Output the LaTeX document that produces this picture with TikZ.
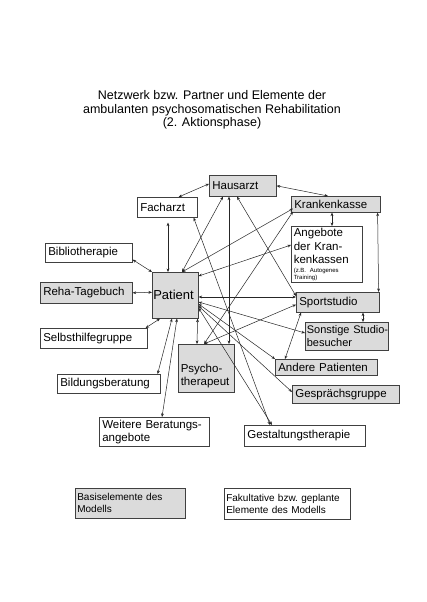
\documentclass[tikz,border=0pt]{standalone}
\usepackage{fontspec}
\setmainfont{Liberation Sans}
\usetikzlibrary{arrows.meta,calc}
\newcommand{\boxfont}{\frenchspacing\fontsize{11.5}{13.5}\selectfont}
\begin{document}
\begin{tikzpicture}[x=1pt,y=-1pt,
  box/.style={draw=black!75, line width=0.6pt, inner xsep=3pt, inner ysep=1pt, align=left, anchor=north west, font=\boxfont},
  gbox/.style={box, fill=black!14},
  wbox/.style={box, fill=white},
  conn/.style={{Stealth[length=3.5pt,width=2.8pt]}-{Stealth[length=3.5pt,width=2.8pt]}, line width=0.5pt, draw=black!85}]
\useasboundingbox[fill=white] (0,0) rectangle (426,602);
% title
\node[anchor=north, align=center, inner sep=0pt, font=\fontsize{12.5}{13.5}\selectfont] (title) at (212,90.5)
  {Netzwerk bzw. Partner und Elemente der\\ambulanten psychosomatischen Rehabilitation\\(2. Aktionsphase)};
% boxes
\node[gbox, minimum width=67, minimum height=21, text width=61] (haus) at (209,175) {Hausarzt};
\node[wbox, minimum width=60, minimum height=20, text width=54] (fach) at (137,197) {Facharzt};
\node[gbox, minimum width=89, minimum height=16, text width=83] (krank) at (291,196) {Krankenkasse};
\node[wbox, minimum width=71, minimum height=56, text width=66, inner xsep=2.5pt, inner ysep=2pt] (ang) at (291,226)
  {\parbox[t]{66pt}{\raggedright Angebote\\der Kran-\\kenkassen\par\vspace{1.5pt}{\fontsize{6}{7}\selectfont (z.B.\ Autogenes\\Training)\par}}};
\node[gbox, minimum width=83, minimum height=20, text width=77] (sport) at (296,292) {Sportstudio};
\node[gbox, minimum width=83, minimum height=28, text width=80, inner xsep=1.5pt, font=\frenchspacing\fontsize{11}{13.5}\selectfont] (sonst) at (305,322) {\mbox{Sonstige Studio-}\\besucher};
\node[gbox, minimum width=102, minimum height=16, text width=96] (andere) at (275,359) {Andere Patienten};
\node[gbox, minimum width=107, minimum height=18, text width=101] (gespr) at (292,385) {Gesprächsgruppe};
\node[wbox, minimum width=121, minimum height=21, text width=115] (gestalt) at (244,425) {Gestaltungstherapie};
\node[wbox, minimum width=110, minimum height=29, text width=104] (weitere) at (99,417) {\mbox{Weitere Beratungs-}\\angebote};
\node[wbox, minimum width=103, minimum height=19, text width=97] (bildung) at (57,374) {Bildungsberatung};
\node[gbox, minimum width=56, minimum height=48, text width=51, inner xsep=2.5pt] (psycho) at (178,344) {\rule{0pt}{24pt}Psycho-\\therapeut};
\node[gbox, minimum width=46, minimum height=46, text width=44, inner xsep=1pt, font=\fontsize{13}{15}\selectfont] (pat) at (152,272) {Patient};
\node[wbox, minimum width=107, minimum height=20, text width=101] (selbst) at (40,328) {Selbsthilfegruppe};
\node[gbox, minimum width=92, minimum height=21, text width=86] (reha) at (40,282) {Reha-Tagebuch};
\node[wbox, minimum width=87, minimum height=19, text width=81] (biblio) at (45,243) {Bibliotherapie};
% legend
\node[gbox, minimum width=110, minimum height=30, text width=106, inner xsep=2pt, font=\frenchspacing\fontsize{10}{12}\selectfont] (leg1) at (75,488) {Basiselemente des\\Modells};
\node[wbox, minimum width=126, minimum height=31, text width=122, inner xsep=2pt, font=\frenchspacing\fontsize{10}{12}\selectfont] (leg2) at (224,488) {Fakultative bzw.\ geplante\\Elemente des Modells};
% connectors
\draw[conn] ($(haus.west)+(0,-2)$) -- ($(fach.north east)+(-19,0)$);
\draw[conn] (haus.east) -- ($(krank.north west)+(37,0)$);
\draw[conn] ($(haus.south west)+(14,0)$) -- ($(pat.north west)+(30,0)$);
\draw[conn] ($(haus.south west)+(20,0)$) -- ($(psycho.north west)+(51,0)$);
\draw[conn] ($(haus.south west)+(28,0)$) -- ($(sport.north west)+(0,4)$);
\draw[conn, shorten <=5pt] ($(fach.south west)+(31,0)$) -- ($(pat.north west)+(16,0)$);
\draw[conn] ($(fach.south east)+(-4,0)$) -- ($(gestalt.north west)+(26,0)$);
\draw[conn] ($(pat.north west)+(30,0)$) -- ($(krank.south west)+(2,-4)$);
\draw[conn] ($(pat.north east)+(0,4)$) -- ($(ang.north west)+(0,19)$);
\draw[conn] ($(pat.north east)+(0,25)$) -- ($(sport.north west)+(0,5)$);
\draw[conn] ($(pat.north east)+(0,30)$) -- ($(sonst.north west)+(0,11)$);
\draw[conn] ($(pat.north east)+(0,32)$) -- (andere.north west);
\draw[conn] ($(pat.north east)+(0,34)$) -- ($(gespr.north west)+(0,7)$);
\draw[conn] ($(pat.north east)+(0,36)$) -- ($(gestalt.north west)+(28,0)$);
\draw[conn] ($(pat.south east)+(-1,0)$) -- ($(psycho.north west)+(19,0)$);
\draw[conn] ($(psycho.north west)+(26,0)$) -- ($(krank.south west)+(2,-1)$);
\draw[conn] ($(psycho.north west)+(26,0)$) -- ($(sport.south west)+(0,-8)$);
\draw[conn] ($(krank.south west)+(41,0)$) -- ($(ang.north west)+(41,0)$);
\draw[conn] ($(krank.south east)+(-3,0)$) -- ($(sport.north east)+(-1,0)$);
\draw[conn] ($(sport.south west)+(67,0)$) -- ($(sonst.north west)+(58,0)$);
\draw[conn] ($(sport.south west)+(5,0)$) -- ($(andere.north west)+(10,0)$);
\draw[conn] ($(biblio.south east)+(0,-3)$) -- (pat.north west);
\draw[conn] ($(reha.east)+(0,0)$) -- ($(pat.west)+(0,-3)$);
\draw[conn] ($(selbst.north east)+(-2,0)$) -- ($(pat.south west)+(8,0)$);
\draw[conn] ($(bildung.north east)+(-3,0)$) -- ($(pat.south west)+(20,0)$);
\draw[conn] ($(weitere.north west)+(63,0)$) -- ($(pat.south west)+(25,0)$);
\end{tikzpicture}
\end{document}
